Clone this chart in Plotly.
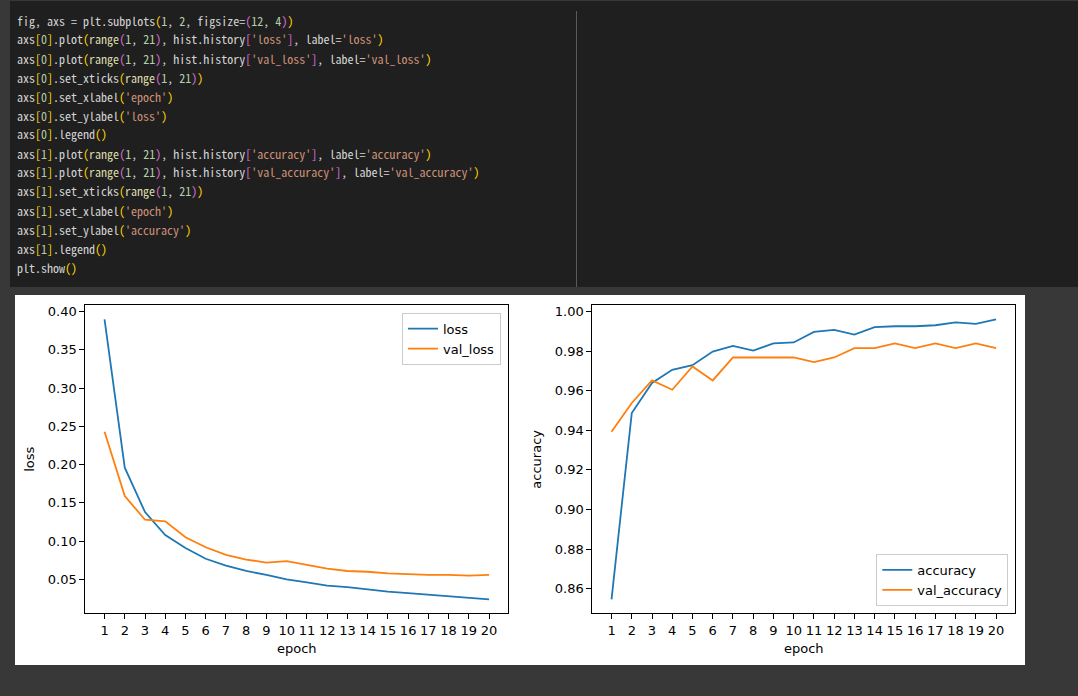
import plotly.graph_objects as go
from plotly.subplots import make_subplots

# training history
epochs = list(range(1, 21))
loss = [0.390, 0.196, 0.138, 0.108, 0.091, 0.077, 0.068, 0.061, 0.056, 0.050,
        0.046, 0.042, 0.040, 0.037, 0.034, 0.032, 0.030, 0.028, 0.026, 0.024]
val_loss = [0.243, 0.159, 0.128, 0.126, 0.105, 0.092, 0.082, 0.076, 0.072, 0.074,
            0.069, 0.064, 0.061, 0.060, 0.058, 0.057, 0.056, 0.056, 0.055, 0.056]
accuracy = [0.8546, 0.9487, 0.9639, 0.9706, 0.9729, 0.9798, 0.9827, 0.9803, 0.9839, 0.9844,
            0.9897, 0.9908, 0.9884, 0.9921, 0.9926, 0.9926, 0.9931, 0.9945, 0.9938, 0.9961]
val_accuracy = [0.9393, 0.9538, 0.9652, 0.9605, 0.9723, 0.9652, 0.9768, 0.9768, 0.9768, 0.9768,
                0.9745, 0.9768, 0.9815, 0.9815, 0.9839, 0.9815, 0.9839, 0.9815, 0.9839, 0.9815]
loss_ticks = [0.05, 0.10, 0.15, 0.20, 0.25, 0.30, 0.35, 0.40]
acc_ticks = [0.86, 0.88, 0.90, 0.92, 0.94, 0.96, 0.98, 1.00]

code_lines = [
    "fig, axs = plt.subplots(1, 2, figsize=(12, 4))",
    "axs[0].plot(range(1, 21), hist.history['loss'], label='loss')",
    "axs[0].plot(range(1, 21), hist.history['val_loss'], label='val_loss')",
    "axs[0].set_xticks(range(1, 21))",
    "axs[0].set_xlabel('epoch')",
    "axs[0].set_ylabel('loss')",
    "axs[0].legend()",
    "axs[1].plot(range(1, 21), hist.history['accuracy'], label='accuracy')",
    "axs[1].plot(range(1, 21), hist.history['val_accuracy'], label='val_accuracy')",
    "axs[1].set_xticks(range(1, 21))",
    "axs[1].set_xlabel('epoch')",
    "axs[1].set_ylabel('accuracy')",
    "axs[1].legend()",
    "plt.show()",
]

W, H = 1078, 696
BLUE, ORANGE = "#1f77b4", "#ff7f0e"
CODE_FONT = "Noto Sans Mono CJK KR, DejaVu Sans Mono, monospace"
PLOT_FONT = "DejaVu Sans, sans-serif"


def px(x):
    return x / W


def py(y):
    return 1 - y / H


def span(text, color):
    text = text.replace("&", "&amp;").replace("<", "&lt;").replace(">", "&gt;")
    return f'<span style="color:{color}">{text}</span>'


def colorize(line):
    """rough vscode dark+ highlighting"""
    brackets = ["#ffd700", "#da70d6", "#179fff"]
    out, depth, i = [], 0, 0
    while i < len(line):
        c = line[i]
        if c == "'":
            j = line.index("'", i + 1)
            out.append(span(line[i:j + 1], "#ce9178"))
            i = j + 1
        elif c in "([":
            out.append(span(c, brackets[depth % 3]))
            depth += 1
            i += 1
        elif c in ")]":
            depth -= 1
            out.append(span(c, brackets[depth % 3]))
            i += 1
        elif c.isdigit():
            j = i
            while j < len(line) and line[j].isdigit():
                j += 1
            out.append(span(line[i:j], "#b5cea8"))
            i = j
        elif c.isalpha() or c == "_":
            j = i
            while j < len(line) and (line[j].isalnum() or line[j] == "_"):
                j += 1
            word = line[i:j]
            out.append(span(word, "#dcdcaa" if word == "range" else "#d4d4d4"))
            i = j
        else:
            out.append(span(c, "#d4d4d4"))
            i += 1
    return "".join(out)


def padded(values):
    lo, hi = min(values), max(values)
    m = (hi - lo) * 0.05
    return [lo - m, hi + m]


fig = make_subplots(rows=1, cols=2)
fig.add_trace(go.Scatter(x=epochs, y=loss, name="loss", mode="lines",
                         line=dict(color=BLUE, width=1.8), legend="legend"), 1, 1)
fig.add_trace(go.Scatter(x=epochs, y=val_loss, name="val_loss", mode="lines",
                         line=dict(color=ORANGE, width=1.8), legend="legend"), 1, 1)
fig.add_trace(go.Scatter(x=epochs, y=accuracy, name="accuracy", mode="lines",
                         line=dict(color=BLUE, width=1.8), legend="legend2"), 1, 2)
fig.add_trace(go.Scatter(x=epochs, y=val_accuracy, name="val_accuracy", mode="lines",
                         line=dict(color=ORANGE, width=1.8), legend="legend2"), 1, 2)

axis_style = dict(showgrid=False, zeroline=False, showline=True, linecolor="black",
                  linewidth=1, mirror=True, ticks="outside", ticklen=5, tickcolor="black",
                  tickfont=dict(family=PLOT_FONT, size=13, color="black"))

x_range = padded(epochs)
fig.update_xaxes(axis_style, range=x_range, tickvals=epochs,
                 title=dict(text="epoch", standoff=6, font=dict(family=PLOT_FONT, size=13, color="black")))
fig.update_xaxes(domain=[px(85.3), px(508.3)], row=1, col=1)
fig.update_xaxes(domain=[px(592.3), px(1015.3)], row=1, col=2)
fig.update_yaxes(axis_style, domain=[py(613.3), py(305.3)])
fig.update_yaxes(range=padded(loss + val_loss), tickvals=loss_ticks, tickformat=".2f",
                 title=dict(text="loss", standoff=10, font=dict(family=PLOT_FONT, size=13, color="black")),
                 row=1, col=1)
fig.update_yaxes(range=padded(accuracy + val_accuracy), tickvals=acc_ticks, tickformat=".2f",
                 title=dict(text="accuracy", standoff=10, font=dict(family=PLOT_FONT, size=13, color="black")),
                 row=1, col=2)

legend_style = dict(bgcolor="rgba(255,255,255,0.8)", bordercolor="#cccccc", borderwidth=1,
                    font=dict(family=PLOT_FONT, size=13, color="black"), xanchor="right",
                    tracegroupgap=0, itemwidth=30)

shapes = [
    # code cell
    dict(type="rect", x0=px(10), x1=1, y0=py(287), y1=py(1), fillcolor="#1f1f1f", line_width=0),
    dict(type="line", x0=px(576.5), x1=px(576.5), y0=py(287), y1=py(11), line=dict(color="#5a5a5a", width=1)),
    # figure canvas
    dict(type="rect", x0=px(15), x1=px(1025), y0=py(665), y1=py(295), fillcolor="white", line_width=0),
]
for s in shapes:
    s.update(xref="paper", yref="paper", layer="below")

annotations = []
for n, line in enumerate(code_lines):
    annotations.append(dict(text=colorize(line), x=px(15), y=py(20 + n * 19), xref="paper", yref="paper",
                            xanchor="left", yanchor="middle", showarrow=False,
                            font=dict(family=CODE_FONT, size=12, color="#d4d4d4")))

fig.update_layout(
    width=W, height=H,
    margin=dict(l=0, r=0, t=0, b=0),
    paper_bgcolor="#383838",
    plot_bgcolor="rgba(0,0,0,0)",
    shapes=shapes,
    annotations=annotations,
    legend=dict(legend_style, x=px(501), y=py(312.7), yanchor="top"),
    legend2=dict(legend_style, x=px(1008.3), y=py(606), yanchor="bottom"),
)

# the page's default body margin would push the figure 8px off
fig.write_html("out.html", config={"displayModeBar": False},
               post_script="document.body.style.margin='0';"
                           "document.body.style.background='#383838';")
